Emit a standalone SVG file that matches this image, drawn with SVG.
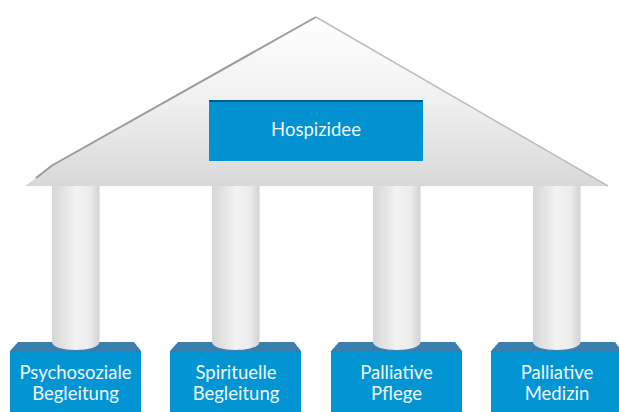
<svg xmlns="http://www.w3.org/2000/svg" width="619" height="412" viewBox="0 0 619 412">
<style>
.lbl{font-family:"Lato","Open Sans",sans-serif;font-size:18.500px;fill:#eef7fc;text-anchor:middle}
.base{fill:#0395d3}
.top{fill:#3a7fae}
.col{fill:url(#colGrad)}
</style>
<defs>
<linearGradient id="roofGrad" x1="0" y1="0" x2="0" y2="1">
<stop offset="0" stop-color="#ffffff"/><stop offset=".5" stop-color="#f0f0f0"/><stop offset="1" stop-color="#d8d8d8"/>
</linearGradient>
<linearGradient id="colGrad" x1="0" y1="0" x2="1" y2="0">
<stop offset="0" stop-color="#d6d6d6"/><stop offset=".5" stop-color="#f2f2f2"/><stop offset=".8" stop-color="#ececec"/><stop offset="1" stop-color="#d2d2d2"/>
</linearGradient>
<path id="pillar" d="M0 186H47.500V342C47.500 347 36 350 23.700 350C11 350 0 347 0 342Z"/>
</defs>
<rect width="619" height="412" fill="#fff"/>
<g id="connectors"></g>
<g id="roof">
<path d="M25 186L52 166L316 18L608 186Z" fill="url(#roofGrad)"/>
<path d="M36 178L52 165.500L316 17" fill="none" stroke="#9c9c9c" stroke-width="2"/>
<path d="M316 17L608 186" fill="none" stroke="#bdbdbd" stroke-width="1.500"/>
</g>
<g id="hospizidee">
<rect class="base" x="209" y="100" width="214" height="61" style="fill:#0291d1"/>
<rect x="209" y="100" width="214" height="2" fill="#045f8e"/>
<text class="lbl" x="316" y="136">Hospizidee</text>
</g>
<g id="psychosoziale">
<path class="top" d="M18 342H134L141 351H10Z"/>
<rect class="base" x="10" y="351" width="131" height="61"/>
<use class="col" href="#pillar" x="52"/>
<text class="lbl" x="75.500" y="379">Psychosoziale</text>
<text class="lbl" x="75.500" y="400">Begleitung</text>
</g>
<g id="spirituelle">
<path class="top" d="M178 342H294L301 351H170Z"/>
<rect class="base" x="170" y="351" width="131" height="61"/>
<use class="col" href="#pillar" x="212"/>
<text class="lbl" x="236" y="379">Spirituelle</text>
<text class="lbl" x="236" y="400">Begleitung</text>
</g>
<g id="pflege">
<path class="top" d="M339 342H455L462 351H331Z"/>
<rect class="base" x="331" y="351" width="131" height="61"/>
<use class="col" href="#pillar" x="373"/>
<text class="lbl" x="396.500" y="379">Palliative</text>
<text class="lbl" x="396.500" y="400">Pflege</text>
</g>
<g id="medizin">
<path class="top" d="M499 342H615L622 351H491Z"/>
<rect class="base" x="491" y="351" width="131" height="61"/>
<use class="col" href="#pillar" x="533"/>
<text class="lbl" x="557" y="379">Palliative</text>
<text class="lbl" x="557" y="400">Medizin</text>
</g>
</svg>
